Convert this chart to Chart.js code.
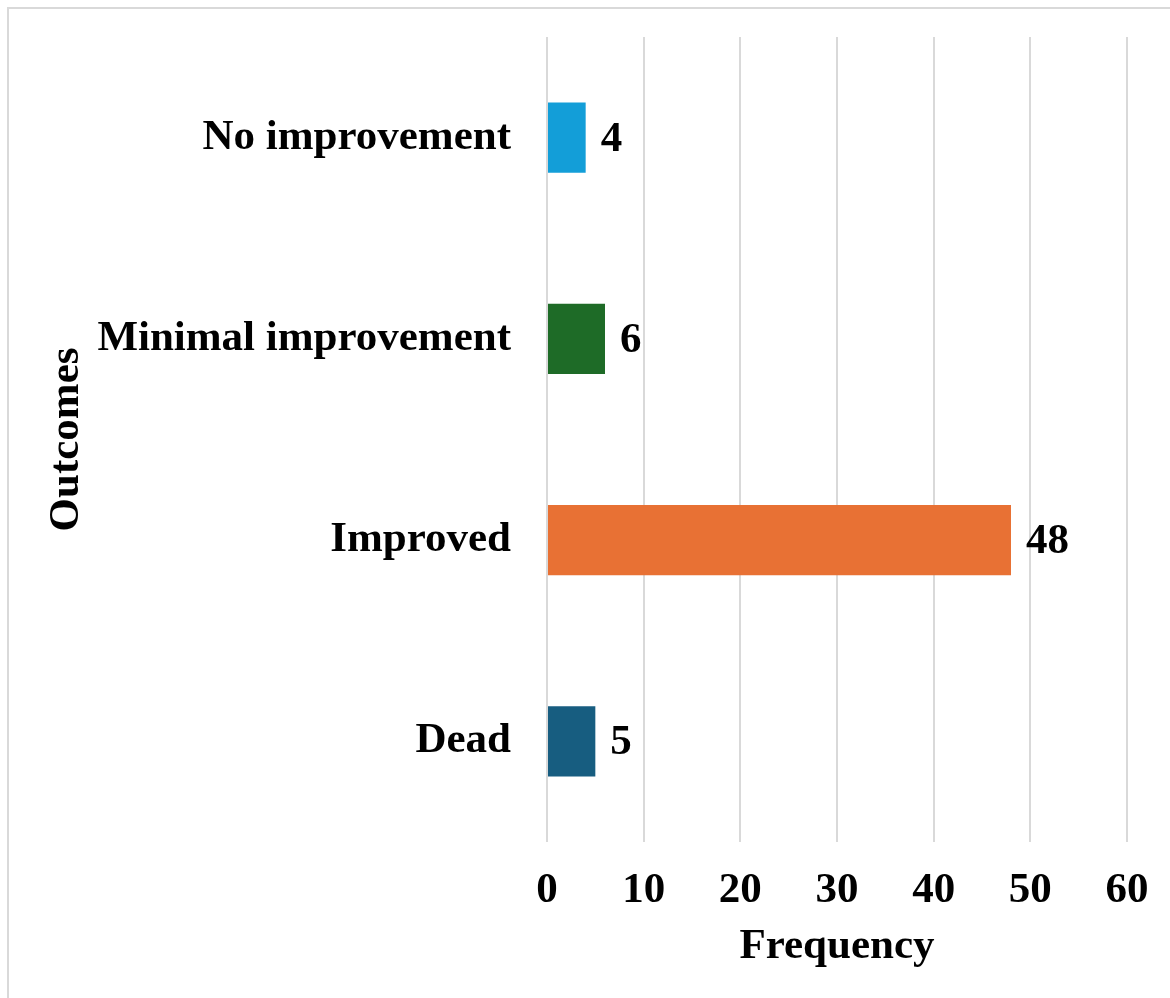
<!DOCTYPE html>
<html>
<head>
<meta charset="utf-8">
<script src="https://cdn.jsdelivr.net/npm/chart.js@4.4.0/dist/chart.umd.min.js"></script>
<style>
  html, body { margin: 0; padding: 0; background: #ffffff; }
  #wrap { position: relative; width: 1170px; height: 998px; overflow: hidden; }
  #frame { position: absolute; left: 7px; top: 7px; right: 0; bottom: 0;
           border-left: 2px solid #d9d9d9; border-top: 2px solid #d9d9d9; }
  #chart { position: absolute; left: 0; top: 0; }
</style>
</head>
<body>
<div id="wrap">
  <div id="frame"></div>
  <canvas id="chart" width="1170" height="998"></canvas>
</div>
<script>
// Outcome categories, top to bottom
const outcomes = ['No improvement', 'Minimal improvement', 'Improved', 'Dead'];
// Number of patients in each outcome
const frequency = [4, 6, 48, 5];
// Bar fill per outcome
const barColors = ['#139ed8', '#1e6b27', '#e87134', '#175d80'];
// Frequency axis ticks
const freqTicks = [0, 10, 20, 30, 40, 50, 60];

const serif = '"Liberation Serif", "Times New Roman", serif';
const FONT_SIZE = 43;

// Writes each bar's value just past its end
const valueLabels = {
  id: 'valueLabels',
  afterDatasetsDraw(chart) {
    const ctx = chart.ctx;
    const meta = chart.getDatasetMeta(0);
    const ds = chart.data.datasets[0];
    ctx.save();
    ctx.font = 'bold ' + FONT_SIZE + 'px ' + serif;
    ctx.fillStyle = '#000000';
    ctx.textAlign = 'left';
    ctx.textBaseline = 'middle';
    meta.data.forEach((bar, i) => {
      ctx.fillText(String(ds.data[i]), bar.x + 15, bar.y + 2);
    });
    ctx.restore();
  }
};

new Chart(document.getElementById('chart'), {
  type: 'bar',
  data: {
    labels: outcomes,
    datasets: [{
      data: frequency,
      backgroundColor: barColors,
      borderWidth: 0,
      categoryPercentage: 1.0,
      barPercentage: 0.35
    }]
  },
  options: {
    indexAxis: 'y',
    responsive: false,
    animation: false,
    devicePixelRatio: 1,
    layout: { padding: { left: 0, top: 37, right: 43, bottom: 0 } },
    plugins: {
      legend: { display: false },
      tooltip: { enabled: false }
    },
    scales: {
      x: {
        min: freqTicks[0],
        max: freqTicks[freqTicks.length - 1],
        afterBuildTicks(scale) {
          scale.ticks = freqTicks.map(v => ({ value: v }));
        },
        afterFit(scale) {
          scale.height = 156;
          scale.paddingLeft = 0;
          scale.paddingRight = 0;
        },
        grid: { color: '#d9d9d9', lineWidth: 2, drawTicks: false },
        border: { display: false },
        ticks: {
          color: '#000000',
          padding: 27,
          maxRotation: 0,
          font: { family: serif, size: FONT_SIZE, weight: 'bold', lineHeight: 1.0 }
        },
        title: {
          display: true,
          text: 'Frequency',
          color: '#000000',
          padding: { top: 0, bottom: 25 },
          font: { family: serif, size: FONT_SIZE, weight: 'bold', lineHeight: 1.2 }
        }
      },
      y: {
        afterFit(scale) {
          scale.width = 547;
          scale.paddingTop = 0;
          scale.paddingBottom = 0;
        },
        grid: { display: false, drawTicks: false },
        border: { display: false },
        ticks: {
          color: '#000000',
          padding: 36,
          font: { family: serif, size: FONT_SIZE, weight: 'bold', lineHeight: 1.0 }
        },
        title: {
          display: true,
          text: 'Outcomes',
          color: '#000000',
          padding: { top: 41, bottom: 0 },
          font: { family: serif, size: FONT_SIZE, weight: 'bold', lineHeight: 1.2 }
        }
      }
    }
  },
  plugins: [valueLabels]
});
</script>
</body>
</html>
